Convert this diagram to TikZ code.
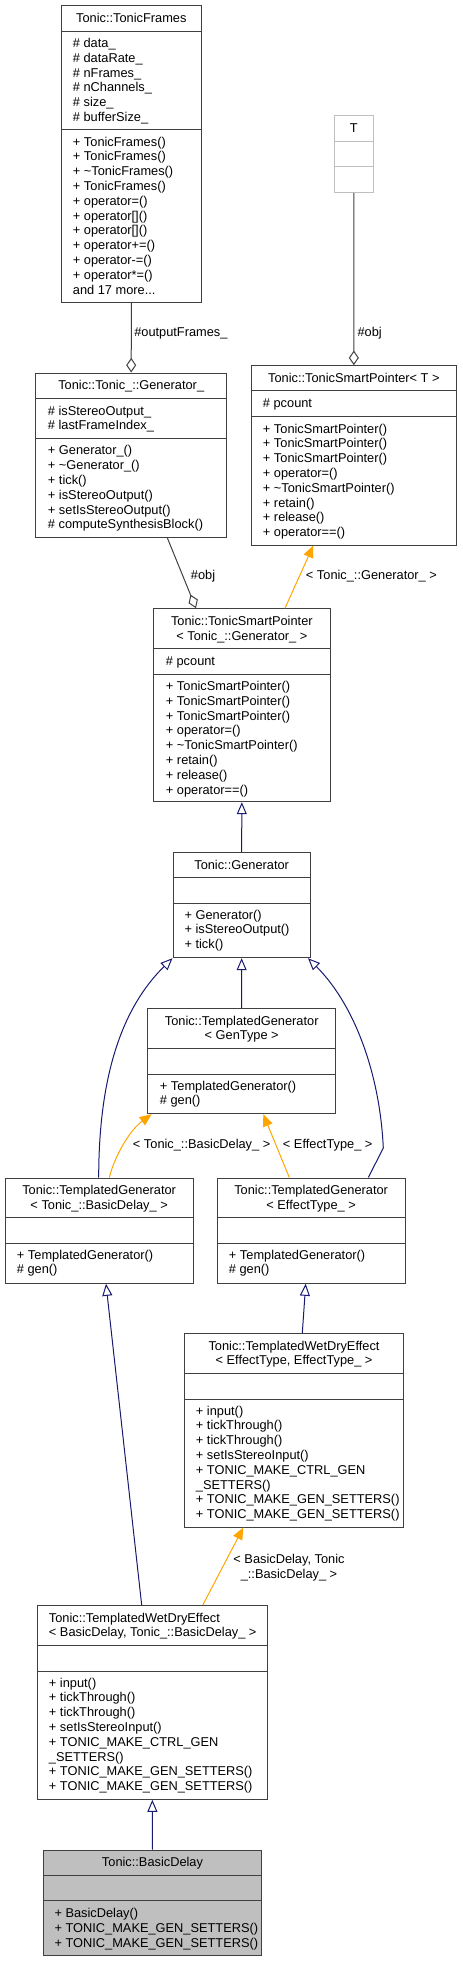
\documentclass[tikz,border=0pt]{standalone}
\usepackage{fontspec}
\setmainfont{Liberation Sans}
\usetikzlibrary{arrows.meta,fit}
\definecolor{bleunuit}{HTML}{191970}
\definecolor{orangeT}{HTML}{FFA500}
\definecolor{grisbord}{HTML}{404040}
\definecolor{grisclair}{HTML}{BFBFBF}

\begin{document}
\begin{tikzpicture}[x=0.75pt,y=-0.75pt]
  \tikzstyle{cls}=[draw=grisbord,line width=0.75pt,inner sep=0pt]
  \tikzstyle{txt}=[inner sep=0pt,anchor=north west,align=left,font=\fontsize{9.6}{11.1}\selectfont]
  \tikzstyle{ttl}=[txt,anchor=north,align=center]
  \tikzstyle{lbl}=[txt,anchor=west]
  \tikzstyle{herite}=[draw=bleunuit,line width=0.75pt,-{Triangle[open,length=9pt,width=7.5pt]}]
  \tikzstyle{tmpl}=[draw=orangeT,line width=0.75pt,-{Triangle[length=9pt,width=7.5pt,fill=orangeT]}]
  \tikzstyle{agg}=[draw=grisbord,line width=0.75pt,{Diamond[open,length=11pt,width=7.5pt]}-]
  \useasboundingbox (0,0) rectangle (462,1961);
  % Boites des classes
  \node[cls,fit={(61,5.7) (201.7,302)}] (frames) {};
  \node[cls,draw=grisclair,fit={(334.3,115.7) (373.3,192.3)}] (tparam) {};
  \node[cls,fit={(35.7,373) (226.7,537.3)}] (genpriv) {};
  \node[cls,fit={(251,365.7) (456.7,545)}] (sptrT) {};
  \node[cls,fit={(153.7,608.7) (330,801.7)}] (sptrG) {};
  \node[cls,fit={(173,852.7) (310.3,957.7)}] (gen) {};
  \node[cls,fit={(147.7,1008.7) (335.7,1113.7)}] (tgGen) {};
  \node[cls,fit={(5,1178) (193.3,1283.3)}] (tgBD) {};
  \node[cls,fit={(217.3,1178) (405,1283.3)}] (tgET) {};
  \node[cls,fit={(184.7,1333.7) (403.3,1527)}] (wdET) {};
  \node[cls,fit={(37,1605.7) (267.7,1799.3)}] (wdBD) {};
  \node[cls,fill=grisclair,fit={(43.3,1850) (261.7,1955)}] (basic) {};
  % Separateurs
  \foreach \n/\a/\b in {frames/31.3/129.7, genpriv/398.7/438.3, sptrT/390.7/416.7,
      sptrG/648.7/674, gen/877.7/903.3, tgGen/1048.7/1074, tgBD/1217.7/1243,
      tgET/1217.7/1243, wdET/1373.7/1399.3, wdBD/1645.7/1671, basic/1875.3/1900.7}
    \draw[cls] (\n.west |- 0,\a) -- (\n.east |- 0,\a) (\n.west |- 0,\b) -- (\n.east |- 0,\b);
  \draw[cls,draw=grisclair] (tparam.west |- 0,141.3) -- (tparam.east |- 0,141.3)
    (tparam.west |- 0,166.3) -- (tparam.east |- 0,166.3);
  % Textes
  \node[ttl] (frames-t) at (131.3,11.9) {\strut Tonic::TonicFrames};
  \node[txt] (frames-a) at (72.7,36.9) {\strut\# data\_\\\# dataRate\_\\\# nFrames\_\\\# nChannels\_\\\# size\_\\\# bufferSize\_};
  \node[txt] (frames-m) at (72.7,135.5) {\strut+ TonicFrames()\\+ TonicFrames()\\+ \textasciitilde TonicFrames()\\+ TonicFrames()\\+ operator=()\\+ operator[]()\\+ operator[]()\\+ operator+=()\\+ operator-=()\\+ operator*=()\\and 17 more...};
  \node[ttl] (tparam-t) at (353.8,121.9) {\strut T};
  \node[ttl] (genpriv-t) at (131.2,378.9) {\strut Tonic::Tonic\_::Generator\_};
  \node[txt] (genpriv-a) at (47.7,404.5) {\strut\# isStereoOutput\_\\\# lastFrameIndex\_};
  \node[txt] (genpriv-m) at (47.7,444.2) {\strut+ Generator\_()\\+ \textasciitilde Generator\_()\\+ tick()\\+ isStereoOutput()\\+ setIsStereoOutput()\\\# computeSynthesisBlock()};
  \node[ttl] (sptrT-t) at (353.85,371.5) {\strut Tonic::TonicSmartPointer< T >};
  \node[txt] (sptrT-a) at (262.7,396.9) {\strut\# pcount};
  \node[txt] (sptrT-m) at (262.7,422.5) {\strut+ TonicSmartPointer()\\+ TonicSmartPointer()\\+ TonicSmartPointer()\\+ operator=()\\+ \textasciitilde TonicSmartPointer()\\+ retain()\\+ release()\\+ operator==()};
  \node[ttl] (sptrG-t) at (241.85,614.9) {\strut Tonic::TonicSmartPointer\\< Tonic\_::Generator\_ >};
  \node[txt] (sptrG-a) at (165.7,654.9) {\strut\# pcount};
  \node[txt] (sptrG-m) at (165.7,679.9) {\strut+ TonicSmartPointer()\\+ TonicSmartPointer()\\+ TonicSmartPointer()\\+ operator=()\\+ \textasciitilde TonicSmartPointer()\\+ retain()\\+ release()\\+ operator==()};
  \node[ttl] (gen-t) at (241.65,858.9) {\strut Tonic::Generator};
  \node[txt] (gen-m) at (184.3,908.5) {\strut+ Generator()\\+ isStereoOutput()\\+ tick()};
  \node[ttl] (tgGen-t) at (241.7,1014.5) {\strut Tonic::TemplatedGenerator\\< GenType >};
  \node[txt] (tgGen-m) at (159.7,1079.5) {\strut+ TemplatedGenerator()\\\# gen()};
  \node[ttl] (tgBD-t) at (99.15,1183.9) {\strut Tonic::TemplatedGenerator\\< Tonic\_::BasicDelay\_ >};
  \node[txt] (tgBD-m) at (16.7,1248.5) {\strut+ TemplatedGenerator()\\\# gen()};
  \node[ttl] (tgET-t) at (311.15,1183.9) {\strut Tonic::TemplatedGenerator\\< EffectType\_ >};
  \node[txt] (tgET-m) at (228.7,1248.5) {\strut+ TemplatedGenerator()\\\# gen()};
  \node[ttl] (wdET-t) at (294,1339.5) {\strut Tonic::TemplatedWetDryEffect\\< EffectType, EffectType\_ >};
  \node[txt] (wdET-m) at (195.7,1404.5) {\strut+ input()\\+ tickThrough()\\+ tickThrough()\\+ setIsStereoInput()\\+ TONIC\_MAKE\_CTRL\_GEN\\\_SETTERS()\\+ TONIC\_MAKE\_GEN\_SETTERS()\\+ TONIC\_MAKE\_GEN\_SETTERS()};
  \node[txt] (wdBD-t) at (48.7,1611.5) {\strut Tonic::TemplatedWetDryEffect\\< BasicDelay, Tonic\_::BasicDelay\_ >};
  \node[txt] (wdBD-m) at (48.7,1676.5) {\strut+ input()\\+ tickThrough()\\+ tickThrough()\\+ setIsStereoInput()\\+ TONIC\_MAKE\_CTRL\_GEN\\\_SETTERS()\\+ TONIC\_MAKE\_GEN\_SETTERS()\\+ TONIC\_MAKE\_GEN\_SETTERS()};
  \node[ttl] (basic-t) at (152.5,1855.9) {\strut Tonic::BasicDelay};
  \node[txt] (basic-m) at (54.3,1906.9) {\strut+ BasicDelay()\\+ TONIC\_MAKE\_GEN\_SETTERS()\\+ TONIC\_MAKE\_GEN\_SETTERS()};
  % Liens
  \draw[agg] (genpriv.north) -- (frames.south);
  \draw[agg] (sptrT.north) -- (tparam.south);
  \draw[agg] (196,0 |- sptrG.north) -- (167.3,0 |- genpriv.south);
  \draw[tmpl] (285,0 |- sptrG.north) -- (313.3,0 |- sptrT.south);
  \draw[herite] (gen.north) -- (sptrG.south);
  \draw[herite] (tgGen.north) -- (gen.south);
  \draw[herite] (98.7,0 |- tgBD.north) .. controls (98.7,1060) and (130,1000) .. (gen.south west);
  \draw[herite] (368.3,0 |- tgET.north) -- (383.3,1148) .. controls (380,1075) and (355,1005) .. (308,0 |- gen.south);
  \draw[tmpl] (109.3,0 |- tgBD.north) .. controls (115,1155) and (130,1130) .. (151.7,0 |- tgGen.south);
  \draw[tmpl] (289.3,0 |- tgET.north) -- (263.3,0 |- tgGen.south);
  \draw[herite] (302.3,0 |- wdET.north) -- (305.7,0 |- tgET.south);
  \draw[herite] (141.7,0 |- wdBD.north) -- (106,0 |- tgBD.south);
  \draw[tmpl] (202.7,0 |- wdBD.north) -- (243.3,0 |- wdET.south);
  \draw[herite] (basic.north) -- (wdBD.south);
  % Etiquettes
  \node[lbl] (l-out) at (134,333.6) {\strut\#outputFrames\_};
  \node[lbl] (l-objT) at (357.3,333.6) {\strut\#obj};
  \node[lbl] (l-objG) at (190.7,576.9) {\strut\#obj};
  \node[lbl] (l-genT) at (305.7,576.9) {\strut< Tonic\_::Generator\_ >};
  \node[lbl] (l-bd) at (132.7,1145.9) {\strut< Tonic\_::BasicDelay\_ >};
  \node[lbl] (l-et) at (282.7,1145.9) {\strut< EffectType\_ >};
  \node[ttl] (l-wd) at (289,1552.9) {\strut< BasicDelay, Tonic\\\_::BasicDelay\_ >};
\end{tikzpicture}
\end{document}
